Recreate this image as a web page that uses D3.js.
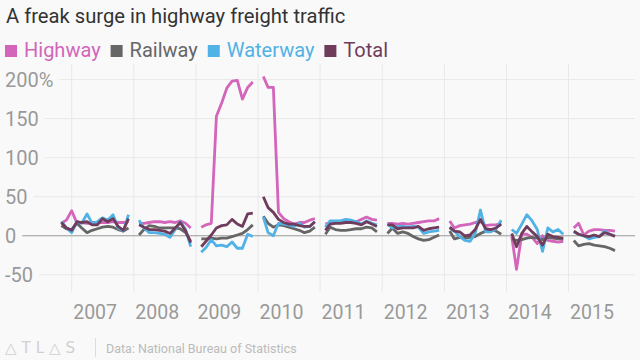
<!DOCTYPE html>
<html><head><meta charset="utf-8">
<script src="https://cdn.jsdelivr.net/npm/d3@7"></script>
<style>
html,body{margin:0;padding:0;background:#f9f9f9;}
svg{display:block;font-family:Roboto,"Noto Sans",sans-serif;}
</style></head><body>
<svg id="c" width="640" height="360"></svg>
<script>
// ---- data (year-on-year % change, monthly; null = no data) ----
const seriesNames = ["Highway","Railway","Waterway","Total"];
const seriesColors = ["#d365ba","#666666","#51b2e5","#703c5c"];
const yearTicks = [2007,2008,2009,2010,2011,2012,2013,2014,2015];
const yTicks = [-50,0,50,100,150,200];
// months run Nov 2006 .. Oct 2015
const highway = [16,20,
  32,16,17,16,17,17,17,17,18,17,17,18,
  null,16,16,17,18,18,17,18,17,19,16,10,
  null,11,14,16,153,170,189,198,199,175,190,197,
  null,204,190,190,30,22,18,15,17,17,20,22,
  null,15,17,17,17,17,18,18,21,24,21,20,
  null,16,16,15,16,15,16,17,18,19,19,22,
  null,19,10,13,14,15,17,18,13,14,14,16,
  null,-1,-43,2,2,-2,-10,0,-6,-7,-8,-7,
  null,10,16,1,6,8,8,7,7,6];
const railway = [13,9,
  8,16,10,4,7,9,11,12,11,8,6,10,
  null,1,8,13,12,10,10,10,10,9,4,-7,
  null,-4,-4,-3,-4,-3,-3,-1,1,3,8,14,
  null,25,16,11,14,13,11,9,7,4,6,11,
  null,2,11,8,7,7,8,9,9,11,10,5,
  null,3,10,3,5,3,-1,-4,-6,-5,-2,1,
  null,6,-4,-2,-3,-2,-1,3,6,8,6,2,
  null,-4,-6,-5,-3,-2,-3,-5,-2,-3,-4,-4,
  null,-6,-13,-11,-10,-12,-13,-14,-16,-19];
const waterway = [18,10,
  4,18,16,28,16,18,23,20,27,10,6,27,
  null,20,10,4,4,3,2,-2,8,18,8,-14,
  null,-21,-15,-5,-13,-12,-14,-8,-16,-16,2,-1,
  null,24,4,0,16,15,14,12,16,11,12,18,
  null,11,19,19,19,21,20,18,15,19,16,14,
  null,15,10,12,12,11,12,11,3,5,6,7,
  null,10,6,-1,-6,-7,3,33,5,5,9,20,
  null,8,3,15,27,19,8,-20,10,5,8,2,
  null,5,2,0,-4,-2,-1,6,2,0];
const total = [17,10,
  7,18,17,18,14,14,22,18,22,12,7,22,
  null,14,11,8,8,7,6,3,10,17,6,-9,
  null,-14,-7,1,10,13,14,21,15,12,28,29,
  null,50,36,30,21,17,15,15,13,12,12,18,
  null,7,15,16,16,17,17,16,14,18,15,12,
  null,14,14,9,10,10,10,12,7,9,10,11,
  null,11,6,5,0,1,8,21,9,8,10,15,
  null,3,-14,3,12,5,-1,-12,2,-1,-2,-3,
  null,6,2,0,-1,1,-1,4,2,-1];
const months = d3.timeMonth.range(new Date(2006,10,1), new Date(2015,10,1));
const seriesValues = [highway, railway, waterway, total];

// ---- drawing ----
const svg = d3.select("#c");
const x = d3.scaleTime().domain([new Date(2007,0,1), new Date(2016,0,1)]).range([71.7, 630.6]);
const y = d3.scaleLinear().domain([-72, 220]).range([292, 64]);
const gridRight = 635;

// title
svg.append("text").attr("x",6).attr("y",22.5).attr("fill","#333")
  .style("font-size","20.2px").text("A freak surge in highway freight traffic");

// legend
let lx = 5;
seriesNames.forEach((n,i)=>{
  svg.append("rect").attr("x",lx).attr("y",45).attr("width",12).attr("height",12).attr("fill",seriesColors[i]);
  const t = svg.append("text").attr("x",lx+19).attr("y",56.5).attr("fill",seriesColors[i])
    .style("font-size","20px").text(n);
  lx += 19 + t.node().getComputedTextLength() + 10;
});

// vertical gridlines
svg.append("g").selectAll("line").data(yearTicks).join("line")
  .attr("x1",d=>x(new Date(d,0,1))).attr("x2",d=>x(new Date(d,0,1)))
  .attr("y1",64).attr("y2",292).attr("stroke","#e8e8e8").attr("stroke-width",1);

// y axis labels + horizontal gridlines
const yAxis = svg.append("g");
yTicks.forEach(v=>{
  const t = yAxis.append("text").attr("x",5).attr("y",y(v)).attr("dy","0.35em")
    .attr("fill","#999").style("font-size","20px").text(v===200 ? "200%" : String(v));
  const w = t.node().getComputedTextLength();
  yAxis.insert("line","text").attr("x1",5+w+6).attr("x2",gridRight).attr("y1",y(v)).attr("y2",y(v))
    .attr("stroke", v===0 ? "#999" : "#e8e8e8").attr("stroke-width",1);
});

// x axis labels
const xAxis = d3.axisBottom(x).tickValues(yearTicks.map(d=>new Date(d,0,1)))
  .tickFormat(d3.timeFormat("%Y")).tickSize(0);
const xg = svg.append("g").attr("transform","translate(0,300)").call(xAxis);
xg.select(".domain").remove();
xg.selectAll("text").attr("text-anchor","start").attr("dx","1").attr("y",0).attr("dy","19.3px")
  .attr("fill","#999").style("font-size","19.5px").style("font-family","Roboto,sans-serif");

// lines
const line = d3.line().defined(d=>d.v!==null).x(d=>x(d.t)).y(d=>y(d.v)).curve(d3.curveLinear);
seriesValues.forEach((vals,i)=>{
  const data = months.map((t,k)=>({t, v: vals[k]}));
  svg.append("path").datum(data).attr("d",line).attr("fill","none")
    .attr("stroke",seriesColors[i]).attr("stroke-width",2.8)
    .attr("stroke-linejoin","round").attr("stroke-linecap","butt");
});

// footer
svg.append("text").attr("x",5).attr("y",353).attr("fill","#d0d0d0")
  .style("font-size","15px").style("letter-spacing","5px").style("font-family","DejaVu Sans,sans-serif")
  .text("\u25B3TL\u25B3S");
svg.append("line").attr("x1",95.5).attr("x2",95.5).attr("y1",338).attr("y2",357).attr("stroke","#ddd");
svg.append("text").attr("x",106).attr("y",353).attr("fill","#bbb")
  .style("font-size","12.5px").text("Data: National Bureau of Statistics");
</script>
</body></html>
